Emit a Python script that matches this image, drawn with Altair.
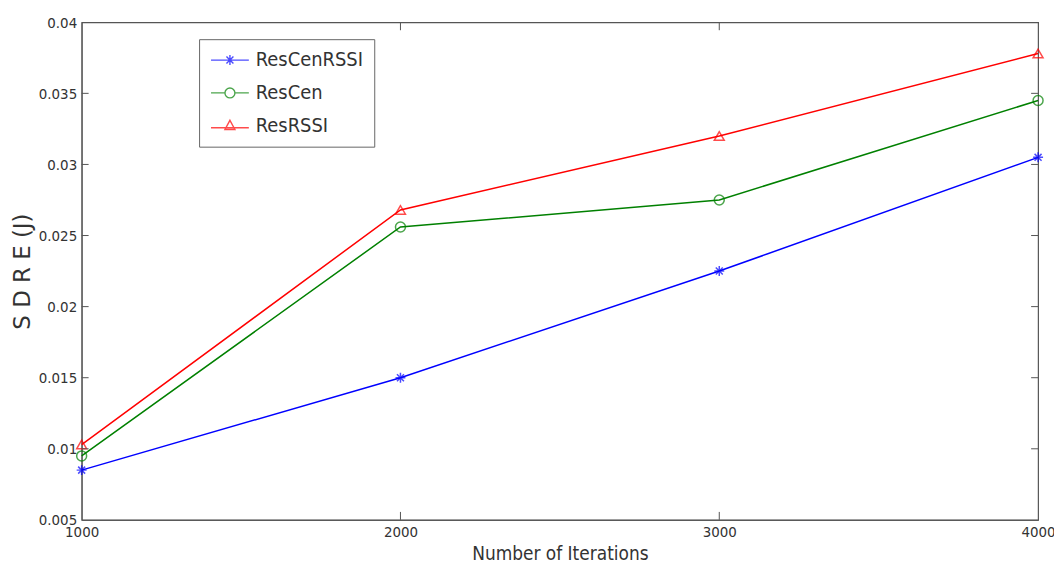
import altair as alt
import pandas as pd

iterations = [1000, 2000, 3000, 4000]
series_names = ["ResCenRSSI", "ResCen", "ResRSSI"]
res_cen_rssi = [0.0085, 0.0150, 0.0225, 0.0305]
res_cen = [0.0095, 0.0256, 0.0275, 0.0345]
res_rssi = [0.0103, 0.0268, 0.0320, 0.0378]
colors = ["#0000ff", "#008000", "#ff0000"]
y_ticks = [0.005, 0.01, 0.015, 0.02, 0.025, 0.03, 0.035, 0.04]
x_inner_ticks = [2000, 3000]
y_inner_ticks = [0.01, 0.015, 0.02, 0.025, 0.03, 0.035]

rows = []
for name, vals in zip(series_names, [res_cen_rssi, res_cen, res_rssi]):
    for it, v in zip(iterations, vals):
        rows.append({"Iterations": it, "SDRE": v, "Series": name})
df = pd.DataFrame(rows)

FONT = "'DejaVu Sans Condensed', 'Liberation Sans', sans-serif"
asterisk = "M-1,0L1,0M0,-1L0,1M-0.7,-0.7L0.7,0.7M-0.7,0.7L0.7,-0.7"
leg_asterisk = "M-3.8,0L3.8,0" + asterisk
leg_circle = "M-3.8,0L-1,0M1,0L3.8,0M1,0A1,1 0 1,1 -1,0A1,1 0 1,1 1,0"
leg_triangle = "M-3.8,0.4L3.8,0.4M0,-1.1L1,0.75L-1,0.75Z"

xscale = alt.Scale(domain=[1000, 4000], nice=False, zero=False)
yscale = alt.Scale(domain=[0.005, 0.04], nice=False, zero=False)

x_enc = alt.X("Iterations:Q", scale=xscale,
              axis=alt.Axis(values=iterations, title="Number of Iterations",
                            format="d", grid=False, tickSize=0, labelPadding=5,
                            titlePadding=5))
y_enc = alt.Y("SDRE:Q", scale=yscale,
              axis=alt.Axis(values=y_ticks, title="S D R E  (J)", format="~g",
                            grid=False, tickSize=0, labelPadding=5,
                            titlePadding=4))

leg_props = dict(title=None, orient="none", legendX=118, legendY=17,
                 strokeColor="#666", fillColor="white", padding=11,
                 labelFont=FONT, labelFontSize=20, labelColor="#333",
                 symbolSize=100, symbolStrokeWidth=1.4, rowPadding=13,
                 symbolOffset=10, labelOffset=16, labelLimit=300,
                 symbolFillColor="transparent")

def cscale():
    return alt.Scale(domain=series_names, range=colors)

lines = alt.Chart(df).mark_line(strokeWidth=1.5).encode(
    x=x_enc, y=y_enc,
    color=alt.Color("Series:N", scale=cscale(), legend=None),
    detail="Series:N")
points = alt.Chart(df).mark_point(filled=False, size=100, strokeWidth=1.5).encode(
    x=x_enc, y=y_enc,
    color=alt.Color("Series:N", scale=cscale(), legend=None),
    shape=alt.Shape("Series:N",
                    scale=alt.Scale(domain=series_names,
                                    range=[asterisk, "circle", "triangle-up"]),
                    legend=None))
legend_layer = alt.Chart(df).transform_filter("datum.SDRE < 0").mark_point(
    filled=False, size=100, strokeWidth=1.4).encode(
    x=x_enc, y=y_enc,
    color=alt.Color("Series:N", scale=cscale(), legend=alt.Legend(**leg_props)),
    shape=alt.Shape("Series:N",
                    scale=alt.Scale(domain=series_names,
                                    range=[leg_asterisk, leg_circle, leg_triangle]),
                    legend=alt.Legend(**leg_props)))

xt_df = pd.DataFrame({"Iterations": x_inner_ticks})
yt_df = pd.DataFrame({"SDRE": y_inner_ticks})
tick_style = dict(color="#555", strokeWidth=1)
xticks_bottom = alt.Chart(xt_df).mark_rule(**tick_style).encode(
    x=alt.X("Iterations:Q", scale=xscale), y=alt.value(500), y2=alt.value(492))
xticks_top = alt.Chart(xt_df).mark_rule(**tick_style).encode(
    x=alt.X("Iterations:Q", scale=xscale), y=alt.value(0), y2=alt.value(8))
yticks_left = alt.Chart(yt_df).mark_rule(**tick_style).encode(
    y=alt.Y("SDRE:Q", scale=yscale), x=alt.value(0), x2=alt.value(7))
yticks_right = alt.Chart(yt_df).mark_rule(**tick_style).encode(
    y=alt.Y("SDRE:Q", scale=yscale), x=alt.value(954), x2=alt.value(961))

chart = alt.layer(
    lines, points, legend_layer,
    xticks_bottom, xticks_top, yticks_left, yticks_right
).resolve_scale(shape="independent", color="independent").properties(
    width=961, height=500,
    autosize=alt.AutoSizeParams(type="none"),
    padding={"left": 74, "top": 13, "right": 16, "bottom": 44},
).configure_view(stroke="#555", strokeWidth=1.2).configure_axis(
    domainColor="#555", tickColor="#555", labelFont=FONT, titleFont=FONT,
    labelFontSize=15, labelColor="#333", titleColor="#333",
    titleFontWeight="normal", labelFlush=False,
).configure_axisY(titleFontSize=23, titleFont="'DejaVu Sans', sans-serif"
).configure_axisX(titleFontSize=19)

chart.save("out.html", embed_options={"renderer": "svg", "actions": False})
